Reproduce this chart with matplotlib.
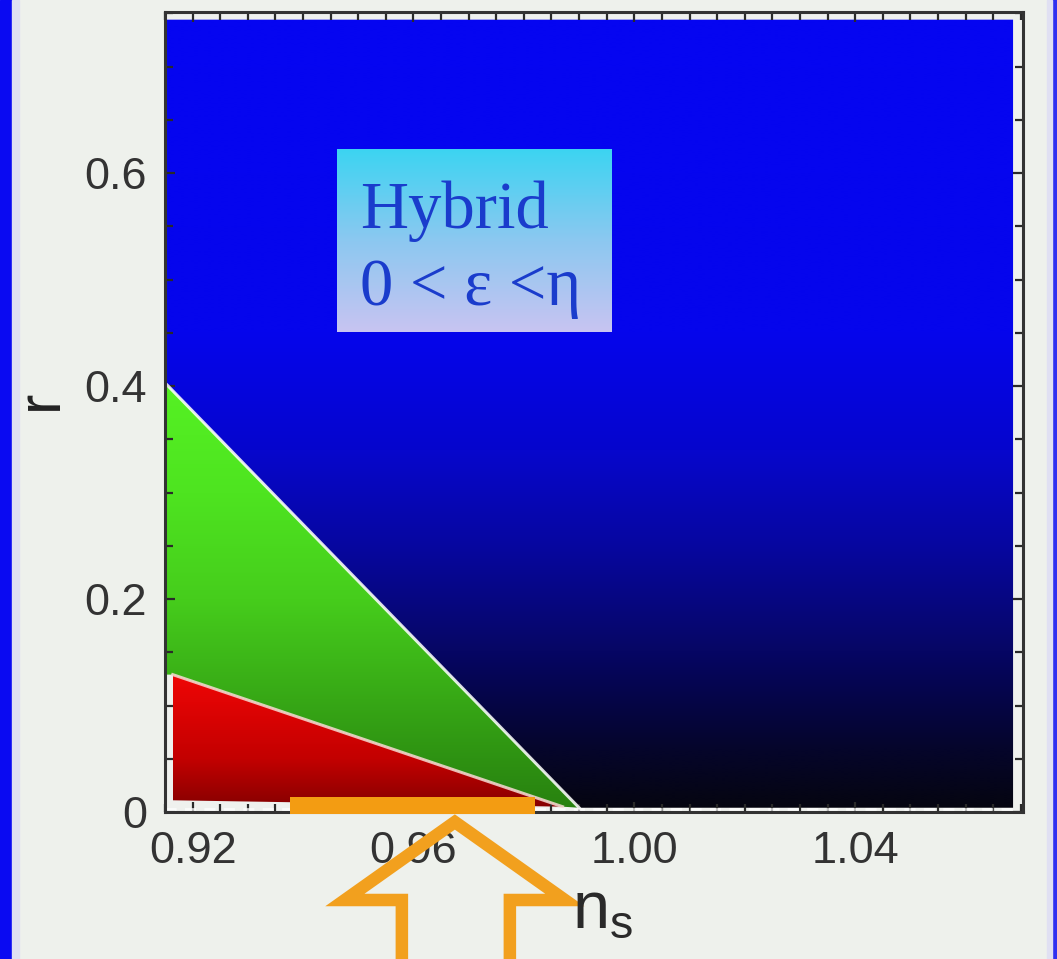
import numpy as np
import matplotlib.pyplot as plt
from matplotlib.patches import Polygon, Rectangle
from matplotlib.ticker import MultipleLocator
from matplotlib.transforms import IdentityTransform

plt.rcParams['font.family'] = ['Liberation Sans', 'DejaVu Sans']
plt.rcParams['mathtext.fontset'] = 'custom'
plt.rcParams['mathtext.rm'] = 'Liberation Sans'
plt.rcParams['mathtext.it'] = 'Liberation Sans:italic'

# axis ranges and ticks
ns_lim = (0.915, 1.0704)
r_lim = (0.0, 0.7512)
ns_ticks = [0.92, 0.96, 1.00, 1.04]
ns_ticklabels = ['0.92', '0.96', '1.00', '1.04']
r_ticks = [0, 0.2, 0.4, 0.6]
r_ticklabels = ['0', '0.2', '0.4', '0.6']

# regions of the (n_s, r) plane
hybrid_ns = [0.915, 1.0686, 1.0686, 0.990, 0.915]
hybrid_r = [0.744, 0.744, 0.004, 0.004, 0.403]
large_ns = [0.915, 0.990, 0.987, 0.9164, 0.915]
large_r = [0.403, 0.004, 0.005, 0.129, 0.129]
small_ns = [0.9164, 0.987, 0.9164]
small_r = [0.129, 0.005, 0.011]

# observed band and arrow
band_ns = [0.9376, 0.982]
band_r = 0.014
arrow_ns = 0.9675

# label box
box_ns = [0.9461, 0.9959]
box_r = [0.4507, 0.6216]

W, H = 1057, 959
fig = plt.figure(figsize=(W / 100, H / 100), dpi=100, facecolor='#eef1ec')
ax = fig.add_axes([165 / W, 1 - 812 / H, (1023 - 165) / W, 800 / H])
ax.set_facecolor('#eff1ee')


def vgrad(r0, r1, stops_r, stops_rgb, n=256):
    rr = np.linspace(r0, r1, n)
    cols = np.array(stops_rgb, dtype=float) / 255.0
    img = np.stack([np.interp(rr, stops_r, cols[:, k]) for k in range(3)], -1)
    return img[:, None, :]


def grad_fill(xs, ys, stops_r, stops_rgb):
    r0, r1 = min(ys), max(ys)
    img = vgrad(r0, r1, stops_r, stops_rgb)
    im = ax.imshow(img, extent=[min(xs), max(xs), r0, r1], origin='lower',
                   aspect='auto', interpolation='bilinear', zorder=1)
    poly = Polygon(np.column_stack([xs, ys]), closed=True, facecolor='none',
                   edgecolor='none', transform=ax.transData)
    ax.add_patch(poly)
    im.set_clip_path(poly)


# hybrid (blue)
grad_fill(hybrid_ns, hybrid_r, [0.0, 0.06, 0.15, 0.25, 0.34, 0.45, 0.75],
          [(5, 5, 15), (5, 5, 44), (6, 6, 100), (7, 7, 160), (6, 6, 205), (5, 5, 236), (5, 5, 242)])

# large field (green)
grad_fill(large_ns, large_r, [0.0, 0.05, 0.2, 0.3, 0.41],
          [(40, 128, 16), (46, 146, 18), (70, 205, 28), (78, 228, 32), (86, 242, 36)])

# small field (red)
grad_fill(small_ns, small_r, [0.0, 0.05, 0.13],
          [(128, 0, 0), (195, 0, 0), (240, 6, 6)])

# boundaries
ax.plot(large_ns[:2], large_r[:2], color='white', lw=2.2, alpha=0.85, zorder=2)
ax.plot(small_ns[:2], small_r[:2], color='#f6dcd4', lw=2.2, alpha=0.85, zorder=2)
ax.plot([ns_lim[0], hybrid_ns[1]], [0.0025, 0.0025], color='white', lw=2,
        alpha=0.75, dashes=(4, 3), zorder=2)

# label box with gradient
bimg = vgrad(box_r[0], box_r[1], [box_r[0], (box_r[0] + box_r[1]) / 2, box_r[1]],
             [(200, 196, 242), (140, 200, 240), (60, 212, 242)])
ax.imshow(bimg, extent=[box_ns[0], box_ns[1], box_r[0], box_r[1]], origin='lower',
          aspect='auto', interpolation='bilinear', zorder=3)
ax.text(0.9503, 0.548, 'Hybrid', family=['Liberation Serif', 'DejaVu Serif'],
        fontsize=48, color='#1a3ccc', va='baseline', ha='left', zorder=4)
ax.text(0.9503, 0.476, '0 < ε <η', family=['Liberation Serif', 'DejaVu Serif'],
        fontsize=48, color='#1a3ccc', va='baseline', ha='left', zorder=4)

# orange band on the axis
ax.add_patch(Rectangle((band_ns[0], -0.0015), band_ns[1] - band_ns[0], band_r + 0.0015,
                       facecolor='#f39c12', edgecolor='none', clip_on=False, zorder=6))

ax.set_xlim(*ns_lim)
ax.set_ylim(*r_lim)
ax.set_xticks(ns_ticks, ns_ticklabels)
ax.set_yticks(r_ticks, r_ticklabels)
ax.xaxis.set_minor_locator(MultipleLocator(0.005))
ax.yaxis.set_minor_locator(MultipleLocator(0.05))
ax.tick_params(which='both', direction='in', top=True, right=True,
               color='#2a2a2a', width=1.6)
ax.tick_params(which='major', length=7, labelsize=32.5, labelcolor='#333333')
ax.tick_params(which='minor', length=6)
ax.tick_params(axis='x', pad=14)
ax.tick_params(axis='y', pad=13)
for s in ax.spines.values():
    s.set_color('#333333')
    s.set_linewidth(2.2)
    s.set_zorder(5)

# axis labels
fig.text(572 / W, 1 - 927 / H, r'$\mathrm{n_s}$', fontsize=48, color='#2a2a2a',
         ha='left', va='baseline')
fig.text(41 / W, 1 - 400 / H, 'r', fontsize=44, color='#222222', rotation=90,
         ha='center', va='center')

# hollow arrow pointing to the band
fig.canvas.draw()
tip_x = ax.transData.transform((arrow_ns, 0))[0]
off = [(-53, -140), (-53, -78), (-110, -78), (0, 0), (110, -78), (55, -78), (55, -140)]
tip_y = H - 822
pts = [(tip_x + dx, tip_y + dy) for dx, dy in off]
fig.patches.append(Polygon(pts, closed=False, fill=False, edgecolor='#f2a01e',
                           lw=9, joinstyle='miter', transform=IdentityTransform(),
                           figure=fig))

# slide frame
fig.patches.append(Rectangle((0, 0), 12 / W, 1, color='#0a0af2', transform=fig.transFigure, figure=fig))
fig.patches.append(Rectangle((12 / W, 0), 7 / W, 1, color='#dfe0f2', transform=fig.transFigure, figure=fig))
fig.patches.append(Rectangle((1052 / W, 0), 5 / W, 1, color='#3030f0', transform=fig.transFigure, figure=fig))
fig.patches.append(Rectangle((1047 / W, 0), 5 / W, 1, color='#e0e0f2', transform=fig.transFigure, figure=fig))

fig.savefig('out.png', dpi=100, facecolor=fig.get_facecolor())
